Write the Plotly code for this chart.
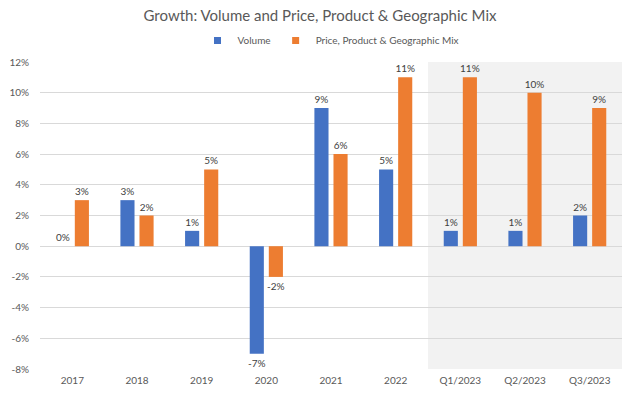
import plotly.graph_objects as go

categories = ["2017", "2018", "2019", "2020", "2021", "2022", "Q1/2023", "Q2/2023", "Q3/2023"]
volume = [0, 3, 1, -7, 9, 5, 1, 1, 2]
price_mix = [3, 2, 5, -2, 6, 11, 11, 10, 9]
y_ticks = [-8, -6, -4, -2, 0, 2, 4, 6, 8, 10, 12]
y_tick_labels = [f"{v}%" for v in y_ticks]

FONT = "Lato, 'Open Sans', sans-serif"
TXT = "#595959"
BLUE = "#4472C4"
ORANGE = "#ED7D31"

fig = go.Figure()
fig.add_trace(go.Bar(
    x=categories, y=volume, name="Volume", showlegend=False,
    marker=dict(color=BLUE, line=dict(width=0)),
    text=[f"{v}%" for v in volume], textposition="outside", constraintext="none",
    textfont=dict(size=10, color="#404040", family=FONT), cliponaxis=False,
))
fig.add_trace(go.Bar(
    x=categories, y=price_mix, name="Price, Product & Geographic Mix", showlegend=False,
    marker=dict(color=ORANGE, line=dict(width=0)),
    text=[f"{v}%" for v in price_mix], textposition="outside", constraintext="none",
    textfont=dict(size=10, color="#404040", family=FONT), cliponaxis=False,
))
# legend entries (small square swatches like the reference)
for nm, col in [("Volume", BLUE), ("Price, Product & Geographic Mix", ORANGE)]:
    fig.add_trace(go.Scatter(x=[None], y=[None], mode="markers", name=nm,
                             marker=dict(symbol="square", size=7, color=col)))

fig.add_shape(type="rect", xref="x", yref="paper", x0=5.5, x1=8.5, y0=0, y1=1,
              fillcolor="#f2f2f2", line=dict(width=0), layer="below")

fig.update_layout(
    width=640, height=401,
    margin=dict(l=40, r=18, t=62, b=32),
    paper_bgcolor="white", plot_bgcolor="white",
    font=dict(family=FONT, color=TXT, size=10),
    title=dict(text="Growth: Volume and Price, Product & Geographic Mix",
               x=0.5, xanchor="center", y=0.96, yanchor="middle",
               font=dict(size=15, color=TXT, family=FONT)),
    legend=dict(orientation="h", x=0.5, xanchor="center", y=1.07, yanchor="middle",
                font=dict(size=10, color=TXT), itemwidth=30, traceorder="normal",
                tracegroupgap=0, itemsizing="trace"),
    barmode="group", bargap=0.41, bargroupgap=0.26,
    showlegend=True,
)
fig.update_xaxes(showgrid=False, showline=False, ticks="", ticklabelstandoff=4,
                 tickfont=dict(size=10, color=TXT))
fig.update_yaxes(range=[-8, 12], tickvals=y_ticks, ticktext=y_tick_labels,
                 showgrid=True, gridcolor="#d9d9d9", gridwidth=1,
                 zeroline=True, zerolinecolor="#d9d9d9", zerolinewidth=1,
                 showline=False, ticks="", ticklabelstandoff=10, automargin=False,
                 tickfont=dict(size=10, color=TXT))

fig.write_html("out.html", config={"displayModeBar": False},
               post_script="document.body.style.margin='0';")
